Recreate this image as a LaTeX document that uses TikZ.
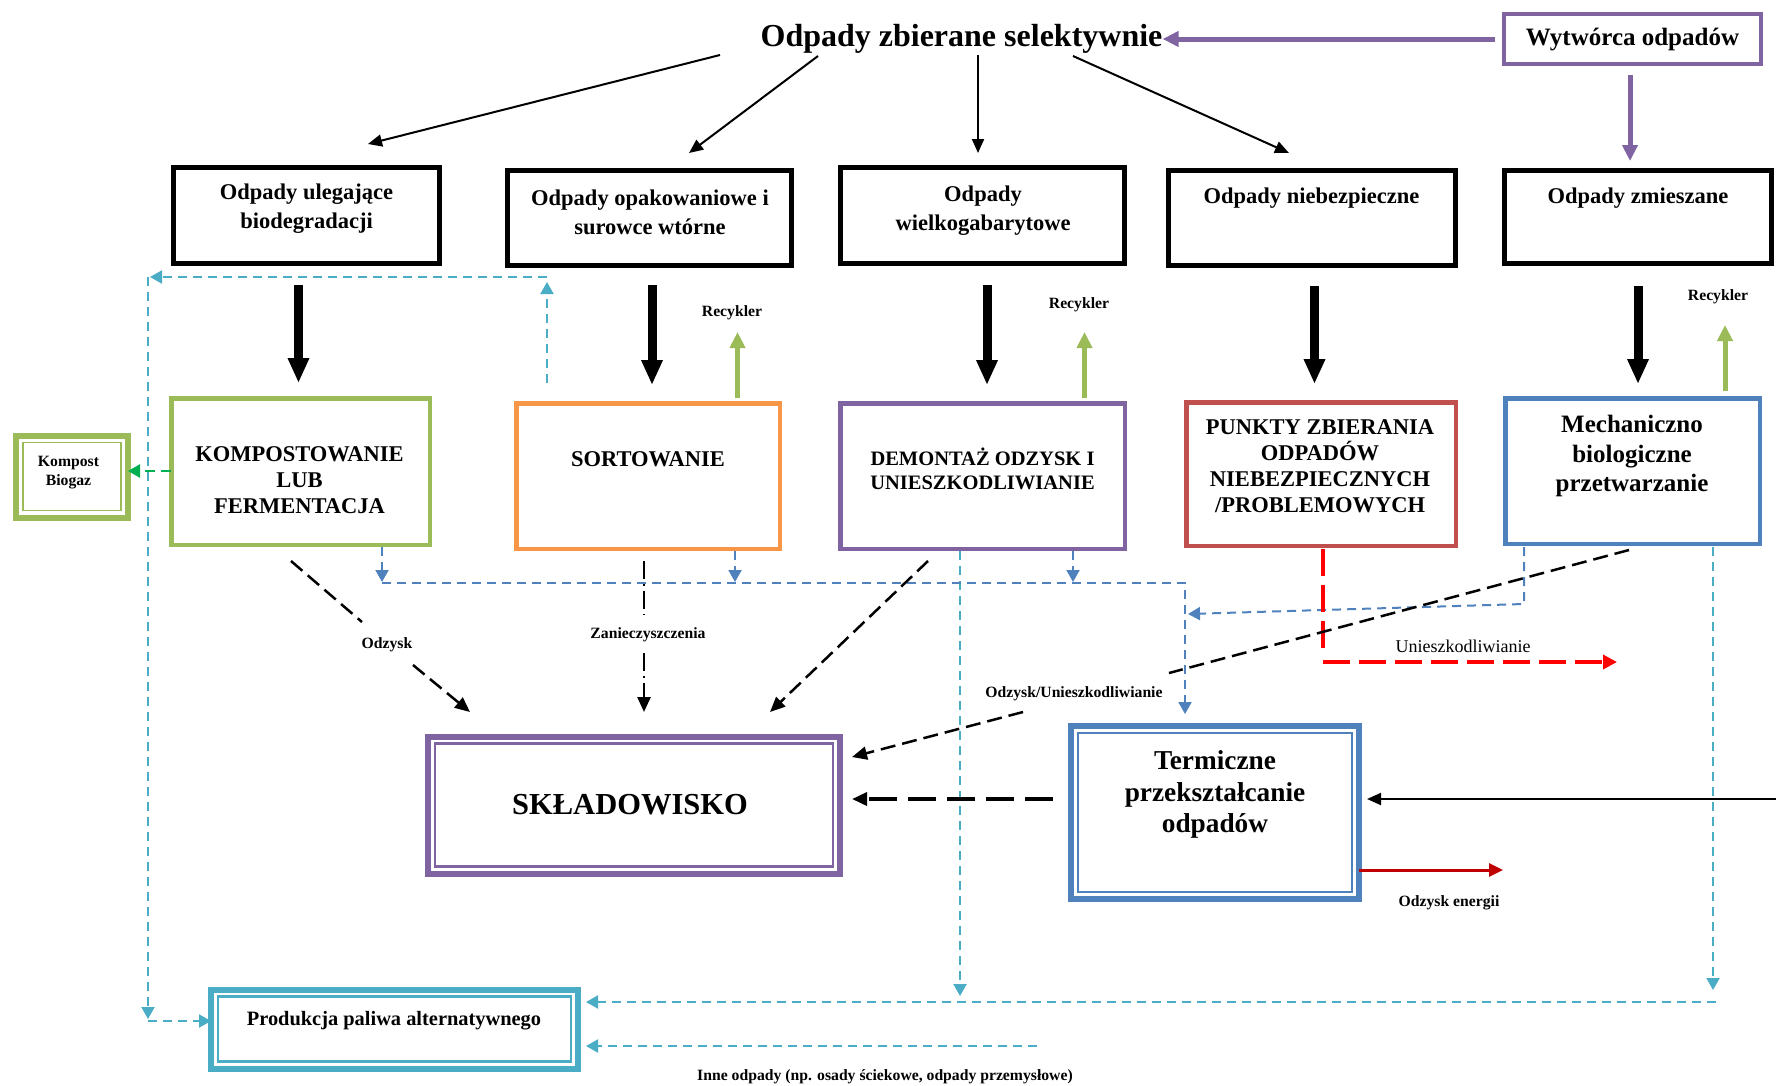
\documentclass[tikz,border=0pt]{standalone}
\usepackage{fontspec}
\setmainfont{Liberation Serif}
\usetikzlibrary{arrows.meta}
\definecolor{cPurple}{HTML}{8064A2}
\definecolor{cGreen}{HTML}{9BBB59}
\definecolor{cOrange}{HTML}{F79646}
\definecolor{cRedBox}{HTML}{C0504D}
\definecolor{cBlue}{HTML}{4F81BD}
\definecolor{cCyan}{HTML}{4BACC6}
\definecolor{cBrGreen}{HTML}{00B050}
\definecolor{cRed}{HTML}{FF0000}
\definecolor{cDarkRed}{HTML}{C00000}
\begin{document}
\begin{tikzpicture}[x=1pt,y=-1pt,
  box/.style={draw, rectangle, inner sep=0pt, outer sep=0pt},
  blackbox/.style={box, draw=black, line width=5pt},
  colbox/.style={box, draw=#1, line width=4.5pt},
  dblbox/.style={box, draw=#1, line width=6pt},
  inner/.style={draw=#1, line width=2.2pt},
  txt/.style={font=\bfseries, align=center, inner sep=0pt},
  fTop/.style={txt, font=\bfseries\fontsize{22.5}{29}\selectfont},
  fSmall/.style={txt, font=\bfseries\fontsize{15.7}{19}\selectfont},
  thin/.style={line width=2pt, -{Triangle[length=14pt,width=12pt]}},
  fat/.style={line width=9pt, -{Triangle[length=25pt,width=20pt]}},
  greenup/.style={draw=cGreen, line width=5pt, -{Triangle[length=16pt,width=15pt]}},
  purplearrow/.style={draw=cPurple, line width=5pt, -{Triangle[length=16pt,width=15pt]}},
  cyandash/.style={draw=cCyan, line width=2pt, dash pattern=on 9pt off 6pt},
  bluedash/.style={draw=cBlue, line width=2pt, dash pattern=on 9pt off 6pt},
  smalltip/.style={-{Triangle[length=12pt,width=13pt]}},
  blackdash/.style={line width=2.5pt, dash pattern=on 15pt off 7pt},
  blacktip/.style={-{Triangle[length=15pt,width=13pt]}},
  dashdot/.style={line width=2.5pt, dash pattern=on 18pt off 5pt on 2pt off 5pt},
  reddash/.style={draw=cRed, line width=3.5pt, dash pattern=on 27pt off 9pt}
]
\useasboundingbox (0,0) rectangle (1776,1085);

% ---------- title and producer ----------
\node[txt, font=\bfseries\fontsize{32}{38}\selectfont] (title) at (961.5,38.5) {Odpady zbierane selektywnie};
\node[box, draw=cPurple, line width=4pt, minimum width=257pt, minimum height=50pt] (wyt) at (1632.5,39) {};
\node[txt, font=\bfseries\fontsize{25}{30}\selectfont] (wytt) at (1632.5,40) {Wytwórca odpadów};

% ---------- top boxes ----------
\node[blackbox, minimum width=266pt, minimum height=96pt] (b1) at (306.5,215.5) {};
\node[blackbox, minimum width=284pt, minimum height=95pt] (b2) at (649.5,217.5) {};
\node[blackbox, minimum width=284pt, minimum height=96pt] (b3) at (982.5,215.5) {};
\node[blackbox, minimum width=287pt, minimum height=95pt] (b4) at (1312,218) {};
\node[blackbox, minimum width=267pt, minimum height=93pt] (b5) at (1638,217) {};
\node[fTop] (b1t) at (306.5,209) {Odpady ulegające\\biodegradacji};
\node[fTop] (b2t) at (650,212) {Odpady opakowaniowe i\\surowce wtórne};
\node[fTop] (b3t) at (983,211) {Odpady\\wielkogabarytowe};
\node[fTop] (b4t) at (1311.5,198) {Odpady niebezpieczne};
\node[fTop] (b5t) at (1638,198) {Odpady zmieszane};

% ---------- second row ----------
\node[colbox=cGreen, minimum width=258.5pt, minimum height=146.5pt] (k) at (300.5,471.5) {};
\node[colbox=cOrange, minimum width=263.5pt, minimum height=145.5pt] (s) at (648,476) {};
\node[colbox=cPurple, minimum width=284.5pt, minimum height=145.5pt] (d) at (982.5,476) {};
\node[colbox=cRedBox, minimum width=269.5pt, minimum height=143.5pt] (p) at (1321,474) {};
\node[colbox=cBlue, minimum width=254.5pt, minimum height=145.5pt] (m) at (1632.5,471) {};
\node[fTop, font=\bfseries\fontsize{22.5}{26}\selectfont] (kt) at (299.5,480) {KOMPOSTOWANIE\\LUB\\FERMENTACJA};
\node[fTop] (st) at (648,459) {SORTOWANIE};
\node[txt, font=\bfseries\fontsize{20.5}{24}\selectfont] (dt) at (982.5,469) {DEMONTAŻ ODZYSK I\\UNIESZKODLIWIANIE};
\node[txt, font=\bfseries\fontsize{22.5}{26}\selectfont] (pt) at (1320,466) {PUNKTY ZBIERANIA\\ODPADÓW\\NIEBEZPIECZNYCH\\/PROBLEMOWYCH};
\node[txt, font=\bfseries\fontsize{25}{29.5}\selectfont] (mt) at (1632,456) {Mechaniczno\\biologiczne\\przetwarzanie};

% Kompost Biogaz
\node[dblbox=cGreen, minimum width=112pt, minimum height=82pt] (kb) at (72,476.5) {};
\draw[inner=cGreen, line width=1.8pt] ([xshift=7pt,yshift=-7pt]kb.north west) rectangle ([xshift=-7pt,yshift=7pt]kb.south east);
\node[fSmall] (kbt) at (68.5,473) {Kompost\\Biogaz};

% ---------- bottom boxes ----------
\node[dblbox=cPurple, minimum width=412pt, minimum height=137pt] (sk) at (634,805) {};
\draw[inner=cPurple] ([xshift=7pt,yshift=-7pt]sk.north west) rectangle ([xshift=-7pt,yshift=7pt]sk.south east);
\node[txt, font=\bfseries\fontsize{30.5}{36}\selectfont] (skt) at (630,805) {SKŁADOWISKO};

\node[dblbox=cBlue, minimum width=288pt, minimum height=173pt] (t) at (1215,812.5) {};
\draw[inner=cBlue] ([xshift=7pt,yshift=-7pt]t.north west) rectangle ([xshift=-7pt,yshift=7pt]t.south east);
\node[txt, font=\bfseries\fontsize{27.3}{31.5}\selectfont] (tt) at (1215,794.5) {Termiczne\\przekształcanie\\odpadów};

\node[dblbox=cCyan, minimum width=367pt, minimum height=79pt] (pr) at (394.5,1029) {};
\draw[inner=cCyan] ([xshift=7pt,yshift=-7pt]pr.north west) rectangle ([xshift=-7pt,yshift=7pt]pr.south east);
\node[txt, font=\bfseries\fontsize{20.4}{24}\selectfont] (prt) at (394,1021) {Produkcja paliwa alternatywnego};

% ---------- labels ----------
\node[fSmall] (r1) at (732,313) {Recykler};
\node[fSmall] (r2) at (1079,305) {Recykler};
\node[fSmall] (r3) at (1718,297) {Recykler};
\node[fSmall] (lodz) at (387,645) {Odzysk};
\node[fSmall] (lzan) at (648,635) {Zanieczyszczenia};
\node[fSmall] (lou) at (1074,694) {Odzysk/Unieszkodliwianie};
\node[txt, font=\fontsize{18}{22}\selectfont] (lun) at (1463,646) {Unieszkodliwianie};
\node[fSmall] (len) at (1449,903) {Odzysk energii};
\node[fSmall] (linne) at (885,1077) {Inne odpady (np. osady ściekowe, odpady przemysłowe)};

% ---------- coordinates ----------
\coordinate (a1s) at (720,55);   \coordinate (a1e) at (368,144);
\coordinate (a2s) at (818,56);   \coordinate (a2e) at (689,153);
\coordinate (a3s) at (978,55);   \coordinate (a3e) at (978,153);
\coordinate (a4s) at (1073,56);  \coordinate (a4e) at (1289,153);

% ---------- title arrows ----------
\draw[thin] (a1s) -- (a1e);
\draw[thin] (a2s) -- (a2e);
\draw[thin] (a3s) -- (a3e);
\draw[thin] (a4s) -- (a4e);

% producer arrows
\draw[purplearrow] (wyt.west) ++(-9,0) coordinate (pw) -- (title.east |- pw);
\draw[purplearrow] (1630,75) coordinate (pd) -- (1630,161) coordinate (pde);

% ---------- fat black arrows ----------
\draw[fat] (298.5,285) coordinate (f1s) -- (298.5,383) coordinate (f1e);
\draw[fat] (652,285) coordinate (f2s) -- (652,385) coordinate (f2e);
\draw[fat] (987,285) coordinate (f3s) -- (987,385) coordinate (f3e);
\draw[fat] (1314.5,286) coordinate (f4s) -- (1314.5,384) coordinate (f4e);
\draw[fat] (1638,286) coordinate (f5s) -- (1638,384) coordinate (f5e);

% ---------- green recycling arrows ----------
\draw[greenup] (737.5,398) coordinate (g1s) -- (737.5,332) coordinate (g1e);
\draw[greenup] (1084.5,398) coordinate (g2s) -- (1084.5,332) coordinate (g2e);
\draw[greenup] (1725,391) coordinate (g3s) -- (1725,325) coordinate (g3e);

% ---------- compost arrow ----------
\draw[draw=cBrGreen, line width=2.5pt, dash pattern=on 10pt off 6pt, -{Triangle[length=12pt,width=13pt]}] (k.west |- 0,471) coordinate (kw) -- (kb.east |- kw);

% ---------- cyan dashed ----------
\coordinate (c1s) at (547,383); \coordinate (c1e) at (547,282);
\coordinate (c2s) at (547,277); \coordinate (c2e) at (150,277);
\coordinate (c3s) at (148,277); \coordinate (c3e) at (148,1019);
\coordinate (c4s) at (148,1021);
\draw[cyandash, smalltip] (c1s) -- (c1e);
\draw[cyandash, smalltip] (c2s) -- (c2e);
\draw[cyandash, smalltip] (c3s) -- (c3e);
\draw[cyandash, smalltip] (c4s) -- (pr.west |- c4s);
\coordinate (c5s) at (960,551); \coordinate (c5e) at (960,996);
\coordinate (c6s) at (1713,547); \coordinate (c6e) at (1713,990);
\coordinate (c7s) at (1716,1002);
\coordinate (c8s) at (1037,1046);
\draw[cyandash, smalltip] (c5s) -- (c5e);
\draw[cyandash, smalltip] (c6s) -- (c6e);
\draw[cyandash, smalltip] (c7s) -- ([xshift=8pt]pr.east |- c7s);
\draw[cyandash, smalltip] (c8s) -- ([xshift=8pt]pr.east |- c8s);

% ---------- blue dashed ----------
\draw[bluedash, smalltip] (382,547) coordinate (bl1s) -- (382,582) coordinate (bl1e);
\draw[bluedash, smalltip] (735,551) coordinate (bl2s) -- (735,582) coordinate (bl2e);
\draw[bluedash, smalltip] (1073,551) coordinate (bl3s) -- (1073,582) coordinate (bl3e);
\draw[bluedash, smalltip] (382,583) coordinate (bl4s) -- (1185,583) coordinate (bl4m) -- ([yshift=12pt]t.north -| bl4m);
\draw[bluedash, smalltip] (1524,547) coordinate (bl5s) -- (1524,604) coordinate (bl5m) -- (1188,614) coordinate (bl5e);

% ---------- red dashed from hazardous ----------
\draw[reddash] (1323,549) coordinate (rd1s) -- (1323,652) coordinate (rd1e);
\draw[reddash, -{Triangle[length=14pt,width=14pt]}] (1323,662) coordinate (rd2s) -- (1617,662) coordinate (rd2e);

% ---------- black dashed to landfill ----------
\draw[blackdash] (291,561) coordinate (o1s) -- (362,622) coordinate (o1e);
\draw[blackdash, blacktip] (413,665) coordinate (o2s) -- (470,712) coordinate (o2e);
\draw[dashdot] (644,561) coordinate (z1s) -- (644,615) coordinate (z1e);
\draw[dashdot, blacktip] (644,653) coordinate (z2s) -- (644,712) coordinate (z2e);
\draw[blackdash, blacktip] (928,561) coordinate (dds) -- (770,712) coordinate (dde);
\draw[blackdash] (1629,550) coordinate (mu1s) -- (1169,673) coordinate (mu1e);
\draw[blackdash, blacktip] (1023,712) coordinate (mu2s) -- ([xshift=12pt]sk.east |- 0,757);
\draw[line width=3.5pt, dash pattern=on 28pt off 11pt, blacktip] (1053,799) coordinate (tws) -- ([xshift=12pt]sk.east |- tws);

% ---------- thermal inputs/outputs ----------
\draw[thin] (1776,799) coordinate (rin) -- ([xshift=8pt]t.east |- rin);
\draw[draw=cDarkRed, line width=3pt, -{Triangle[length=14pt,width=13pt]}] (t.east |- 0,870) coordinate (te) -- (1503,870) coordinate (tee);
\end{tikzpicture}
\end{document}
